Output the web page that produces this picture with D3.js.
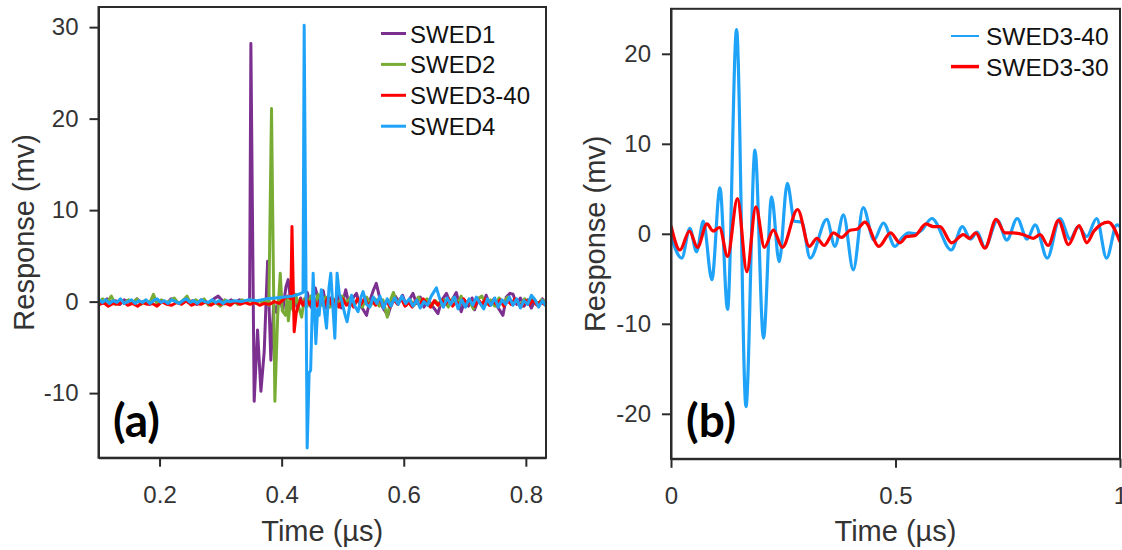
<!DOCTYPE html>
<html>
<head>
<meta charset="utf-8">
<script src="https://cdn.jsdelivr.net/npm/d3@7"></script>
<style>
  html, body { margin: 0; padding: 0; background: #fff; }
  svg { display: block; font-family: Arial, "Liberation Sans", sans-serif; }
</style>
</head>
<body>
<svg id="chart" width="1122" height="550"></svg>
<script>
// ---- panel (a) data: [time µs, response mV] ----
const swed1 = [
  [0.100,0.2],[0.107,-0.2],[0.114,0.3],[0.121,-0.1],[0.128,0.1],[0.135,-0.3],[0.142,0.2],[0.149,0.0],
  [0.156,-0.2],[0.163,0.3],[0.170,-0.1],[0.177,0.1],[0.184,-0.3],[0.191,0.2],[0.198,-0.1],[0.205,0.1],
  [0.212,-0.2],[0.219,0.3],[0.226,0.0],[0.233,-0.2],[0.240,0.2],[0.247,-0.1],[0.254,0.1],[0.261,-0.3],
  [0.268,0.2],[0.275,0.0],[0.282,-0.2],[0.289,0.3],[0.296,0.6],[0.303,0.1],[0.310,-0.2],[0.317,0.2],
  [0.324,-0.1],[0.331,0.2],[0.338,-0.1],[0.344,0.1],
  [0.3475,0.2],[0.3496,28.2],[0.3550,-10.9],[0.3605,-3.1],[0.3660,-9.8],[0.3714,-5.5],[0.3770,4.4],
  [0.3823,-6.4],[0.3870,-0.3],[0.3917,-1.2],[0.3960,0.6],[0.4020,-0.9],[0.4070,1.6],[0.4107,2.4],
  [0.4160,-0.7],[0.4210,0.6],[0.4260,-0.8],[0.4310,0.4],[0.4360,-0.5],
  [0.4420,1.0],[0.4480,-0.6],[0.4550,1.5],[0.4620,-0.3],[0.4680,1.2],[0.4740,-0.8],[0.4800,0.4],
  [0.4860,-1.0],[0.4920,0.9],[0.4980,-0.7],[0.5050,1.3],[0.5110,-0.5],[0.5170,0.4],[0.5226,0.9],
  [0.5280,-0.4],[0.5330,-0.8],[0.5390,-1.5],[0.5450,0.2],[0.5500,1.2],[0.5550,2.0],[0.5610,0.3],
  [0.5660,-0.7],[0.5740,-1.5],[0.5800,-0.2],[0.5860,0.6],[0.5920,0.0],[0.5980,0.7],[0.6040,-0.4],
  [0.6100,0.3],[0.6150,0.9],[0.6210,-0.2],[0.6270,0.5],[0.6330,-0.6],[0.6400,0.2],[0.6470,-0.5],
  [0.6560,-1.3],[0.6620,0.1],[0.6700,0.9],[0.6760,-0.2],[0.6860,1.0],[0.6940,-1.1],[0.7000,0.1],
  [0.7060,-0.5],[0.7120,0.4],[0.7160,-0.9],[0.7220,0.2],[0.7290,-0.5],[0.7350,0.7],[0.7410,-0.4],
  [0.7480,0.3],[0.7540,-0.6],[0.7625,-1.5],[0.7680,0.5],[0.7740,0.9],[0.7790,0.8],[0.7850,-0.3],
  [0.7910,0.4],[0.7970,-0.5],[0.8030,0.2],[0.8090,-0.7],[0.8150,0.1],[0.8210,-0.3],[0.8270,0.3],
  [0.8330,-0.2]
];

const swed2 = [
  [0.100,-0.2],[0.107,0.3],[0.114,-0.1],[0.121,0.6],[0.128,-0.3],[0.135,0.1],[0.142,-0.2],[0.149,0.2],
  [0.156,-0.1],[0.163,0.3],[0.170,-0.3],[0.177,0.1],[0.184,-0.1],[0.190,0.8],[0.196,-0.3],[0.203,0.2],
  [0.210,-0.2],[0.217,0.1],[0.224,0.4],[0.231,-0.2],[0.238,0.1],[0.245,0.6],[0.252,-0.3],[0.259,0.2],
  [0.266,-0.1],[0.273,0.3],[0.280,-0.4],[0.287,0.1],[0.294,-0.2],[0.300,-0.5],[0.307,0.2],[0.314,-0.2],
  [0.321,0.1],[0.328,-0.3],[0.335,0.2],[0.342,-0.1],[0.349,0.2],[0.356,-0.2],[0.363,0.1],[0.370,-0.1],
  [0.376,0.2],[0.3790,-0.4],
  [0.3834,21.1],[0.3889,-10.9],[0.3935,-1.5],[0.3977,3.1],[0.4010,-1.0],[0.4064,-1.5],[0.4090,0.4],
  [0.4110,-2.1],[0.4150,0.5],[0.4190,-1.0],[0.4230,0.8],[0.4280,-0.6],[0.4327,-1.7],[0.4370,0.3],
  [0.4420,-0.5],[0.4480,0.6],[0.4540,-0.3],[0.4600,0.8],[0.4660,-0.4],[0.4720,0.5],[0.4790,-0.6],
  [0.4850,0.3],[0.4920,-0.5],[0.4990,0.6],[0.5060,-0.2],[0.5120,0.4],[0.5190,-0.3],[0.5250,0.2],
  [0.5320,-0.6],[0.5390,0.5],[0.5460,-0.4],[0.5530,0.3],[0.5600,-0.5],[0.5660,0.2],[0.5730,-1.7],
  [0.5790,0.3],[0.5830,1.0],[0.5890,-0.2],[0.5960,0.4],[0.6030,-0.3],[0.6100,0.2],[0.6170,-0.4],
  [0.6240,0.5],[0.6310,-0.2],[0.6380,0.3],[0.6450,-0.5],[0.6520,0.1],[0.6590,-0.4],[0.6660,0.2],
  [0.6730,-0.6],[0.6800,0.3],[0.6870,-0.3],[0.6940,0.6],[0.7000,-0.4],[0.7070,0.2],[0.7140,-0.8],
  [0.7210,0.3],[0.7280,0.6],[0.7350,-0.3],[0.7420,0.2],[0.7490,-0.5],[0.7560,0.4],[0.7630,-0.2],
  [0.7700,0.5],[0.7770,-0.3],[0.7840,0.1],[0.7910,-0.4],[0.7980,0.3],[0.8050,-0.2],[0.8120,0.4],
  [0.8190,-0.3],[0.8260,0.2],[0.8330,-0.1]
];

const swed340 = [
  [0.100,-0.4],[0.108,-0.1],[0.116,-0.5],[0.124,-0.2],[0.132,-0.3],[0.140,0.0],[0.148,-0.4],[0.156,-0.2],
  [0.164,-0.5],[0.172,-0.1],[0.180,-0.3],[0.188,-0.2],[0.196,-0.5],[0.204,0.0],[0.212,-0.3],[0.220,-0.4],
  [0.228,-0.1],[0.236,-0.3],[0.244,0.1],[0.252,-0.4],[0.260,-0.2],[0.268,-0.3],[0.276,0.0],[0.284,-0.4],
  [0.292,-0.1],[0.300,-0.3],[0.308,-0.2],[0.316,-0.4],[0.324,0.0],[0.332,-0.3],[0.340,-0.1],[0.348,-0.3],
  [0.356,-0.1],[0.364,-0.4],[0.372,-0.2],[0.380,-0.3],[0.388,0.0],[0.396,-0.2],[0.404,0.3],[0.410,0.6],
  [0.4150,0.3],[0.4169,8.2],[0.4205,-3.3],[0.4240,-1.2],[0.4270,-0.5],[0.4310,0.2],[0.4350,-0.4],
  [0.4400,0.3],[0.4460,-0.3],[0.4520,0.4],[0.4580,-0.5],[0.4640,0.2],[0.4700,-0.4],[0.4760,0.5],
  [0.4820,-0.3],[0.4880,0.2],[0.4940,-0.6],[0.5000,0.3],[0.5060,-0.4],[0.5120,-0.1],[0.5180,-0.6],
  [0.5240,0.3],[0.5300,-0.3],[0.5360,0.4],[0.5420,-0.5],[0.5480,0.1],[0.5540,-0.4],[0.5600,0.3],
  [0.5660,-0.5],[0.5720,0.0],[0.5780,-0.6],[0.5840,0.2],[0.5900,-0.3],[0.5960,0.3],[0.6020,-0.5],
  [0.6080,-0.1],[0.6140,-0.6],[0.6200,0.2],[0.6260,-0.4],[0.6320,0.3],[0.6380,-0.2],[0.6440,-0.6],
  [0.6500,0.1],[0.6560,-0.4],[0.6620,0.2],[0.6680,-0.3],[0.6740,0.3],[0.6800,-0.5],[0.6860,0.0],
  [0.6920,-0.4],[0.6980,0.3],[0.7040,-0.3],[0.7100,0.1],[0.7160,-0.5],[0.7220,0.2],[0.7280,-0.3],
  [0.7340,0.3],[0.7400,-0.4],[0.7460,0.0],[0.7520,-0.3],[0.7580,0.2],[0.7640,-0.5],[0.7700,0.1],
  [0.7760,-0.3],[0.7820,0.3],[0.7880,-0.2],[0.7940,-0.5],[0.8000,0.1],[0.8060,-0.3],[0.8120,0.2],
  [0.8180,-0.4],[0.8240,0.0],[0.8300,-0.3],[0.8330,-0.1]
];

const swed4 = [
  [0.100,0.3],[0.106,-0.1],[0.112,0.2],[0.118,-0.2],[0.124,0.1],[0.130,-0.1],[0.136,0.3],[0.142,-0.2],
  [0.148,0.0],[0.154,0.2],[0.160,-0.2],[0.166,0.1],[0.172,-0.1],[0.178,0.2],[0.184,-0.2],[0.190,0.1],
  [0.196,0.3],[0.202,-0.1],[0.208,0.1],[0.214,-0.2],[0.220,0.2],[0.226,0.0],[0.232,-0.2],[0.238,0.1],
  [0.244,0.3],[0.250,-0.1],[0.256,0.1],[0.262,-0.2],[0.268,0.2],[0.274,0.0],[0.280,-0.1],[0.286,0.2],
  [0.292,-0.1],[0.298,0.1],[0.304,-0.2],[0.310,0.1],[0.316,0.0],[0.324,0.1],[0.334,0.0],[0.346,0.2],
  [0.360,0.1],[0.375,0.3],[0.390,0.4],[0.405,0.5],[0.418,0.6],[0.428,0.8],[0.4350,1.0],
  [0.4369,30.2],[0.4418,-16.0],[0.4450,-7.8],[0.4475,-7.5],[0.4516,3.1],[0.4560,-4.6],[0.4590,-0.8],
  [0.4614,-1.5],[0.4650,1.3],[0.4700,-1.0],[0.4735,-2.9],[0.4775,1.5],[0.4805,3.1],[0.4871,-4.0],
  [0.4908,3.1],[0.4945,0.8],[0.4980,0.2],[0.5040,-1.5],[0.5072,-2.2],[0.5144,0.7],[0.5200,-0.5],
  [0.5252,-1.1],[0.5300,0.5],[0.5334,1.1],[0.5390,-0.3],[0.5444,-0.6],[0.5500,0.5],[0.5560,-0.2],
  [0.5610,0.6],[0.5670,-0.7],[0.5730,0.3],[0.5790,-0.5],[0.5850,0.4],[0.5910,-0.3],[0.5970,0.6],
  [0.6030,-0.2],[0.6090,0.3],[0.6150,-0.5],[0.6210,0.2],[0.6270,-0.7],[0.6330,0.0],[0.6390,-0.4],
  [0.6450,0.6],[0.6535,1.5],[0.6590,0.3],[0.6650,-0.6],[0.6710,0.4],[0.6770,-0.3],[0.6830,0.5],
  [0.6890,-0.8],[0.6950,0.2],[0.7010,-0.6],[0.7070,0.3],[0.7130,-0.4],[0.7190,0.5],[0.7250,-0.2],
  [0.7310,-0.8],[0.7370,0.3],[0.7430,-0.4],[0.7490,0.4],[0.7550,-0.6],[0.7610,0.2],[0.7670,-0.3],
  [0.7730,0.5],[0.7790,-0.4],[0.7850,0.3],[0.7910,-0.7],[0.7970,0.1],[0.8030,-0.3],[0.8090,0.7],
  [0.8150,0.2],[0.8210,-0.6],[0.8270,0.1],[0.8330,-0.5]
];

// ---- panel (b) data ----
const swed3_40b = [
  [0.000,-0.3],[0.024,-2.7],[0.042,0.6],[0.057,-2.0],[0.072,1.4],[0.091,-5.1],[0.109,5.1],[0.126,-8.4],
  [0.146,22.7],[0.167,-19.2],[0.187,9.3],[0.206,-11.6],[0.224,4.1],[0.241,-3.1],[0.259,5.6],[0.275,1.4],
  [0.291,1.3],[0.310,-2.7],[0.347,1.6],[0.365,-1.4],[0.384,2.1],[0.406,-4.0],[0.428,2.9],[0.452,-0.7],
  [0.473,1.2],[0.499,-1.4],[0.515,-0.4],[0.530,0.1],[0.545,0.0],[0.558,0.4],[0.581,1.7],[0.624,-1.8],
  [0.649,0.8],[0.667,-0.6],[0.682,0.2],[0.699,-1.5],[0.727,1.5],[0.748,-0.7],[0.771,1.7],[0.793,-0.6],
  [0.811,1.0],[0.838,-2.7],[0.866,1.7],[0.889,-0.6],[0.907,0.8],[0.926,-0.3],[0.948,1.7],[0.970,-2.7],
  [0.993,1.0],[1.000,0.8]
];

const swed3_30b = [
  [0.000,0.9],[0.020,-1.8],[0.041,0.3],[0.059,-1.5],[0.080,1.1],[0.094,0.3],[0.108,0.7],[0.126,-2.5],
  [0.148,3.9],[0.169,-4.2],[0.189,3.0],[0.208,-1.5],[0.228,0.4],[0.248,-1.5],[0.282,2.7],[0.308,-1.4],
  [0.325,-0.5],[0.341,-1.3],[0.362,0.1],[0.380,-0.4],[0.399,0.4],[0.414,0.5],[0.432,1.3],[0.463,-1.4],
  [0.489,0.1],[0.510,-1.0],[0.525,-0.3],[0.543,-0.2],[0.568,1.1],[0.584,0.8],[0.599,0.8],[0.625,-1.0],
  [0.651,-0.1],[0.665,-0.5],[0.679,0.1],[0.699,-1.6],[0.724,1.6],[0.744,0.1],[0.762,0.1],[0.785,-0.1],
  [0.807,-0.5],[0.822,-0.1],[0.840,-1.3],[0.863,1.5],[0.885,-1.2],[0.909,0.9],[0.926,-1.0],[0.942,0.3],
  [0.974,1.3],[1.000,-0.9]
];

// ticks / legends
const ticksAX = [0.2, 0.4, 0.6, 0.8];
const ticksAY = [-10, 0, 10, 20, 30];
const ticksBX = [0, 0.5, 1];
const ticksBY = [-20, -10, 0, 10, 20];
const legendA = ["SWED1", "SWED2", "SWED3-40", "SWED4"];
const legendB = ["SWED3-40", "SWED3-30"];

const C_PURPLE = "#7b2f8f", C_GREEN = "#78ac34", C_RED = "#ff0000", C_BLUE = "#1ea3f8";
const INK = "#2b2b2b";

const svg = d3.select("#chart");

function panel(cfg) {
  const x = d3.scaleLinear(cfg.xDomain, [cfg.left, cfg.right]);
  const y = d3.scaleLinear(cfg.yDomain, [cfg.bottom, cfg.top]);
  const g = svg.append("g");

  const clipId = "clip-" + cfg.id;
  svg.append("defs").append("clipPath").attr("id", clipId)
    .append("rect").attr("x", cfg.left).attr("y", cfg.top)
    .attr("width", cfg.right - cfg.left).attr("height", cfg.bottom - cfg.top);

  // series
  const plot = g.append("g").attr("clip-path", `url(#${clipId})`);
  cfg.series.forEach(s => {
    plot.append("path").datum(s.data)
      .attr("d", d3.line().x(d => x(d[0])).y(d => y(d[1])).curve(cfg.curve))
      .attr("fill", "none").attr("stroke", s.color).attr("stroke-width", s.width)
      .attr("stroke-linejoin", "round");
  });

  // frame
  g.append("rect").attr("x", cfg.left).attr("y", cfg.top)
    .attr("width", cfg.right - cfg.left).attr("height", cfg.bottom - cfg.top)
    .attr("fill", "none").attr("stroke", INK).attr("stroke-width", 2);

  // axes
  const xa = g.append("g").attr("transform", `translate(0,${cfg.bottom})`)
    .call(d3.axisBottom(x).tickValues(cfg.xTicks).tickFormat(cfg.xFmt)
      .tickSize(9).tickSizeOuter(0).tickPadding(19));
  const ya = g.append("g").attr("transform", `translate(${cfg.left},0)`)
    .call(d3.axisLeft(y).tickValues(cfg.yTicks).tickFormat(d3.format("d"))
      .tickSize(9).tickSizeOuter(0).tickPadding(11));
  [xa, ya].forEach(a => {
    a.select(".domain").attr("stroke", INK).attr("stroke-width", 2);
    a.selectAll(".tick line").attr("stroke", INK).attr("stroke-width", 2);
    a.selectAll(".tick text").attr("font-size", 24).attr("fill", "#333")
      .attr("font-family", "Arial, 'Liberation Sans', sans-serif");
  });
  ya.selectAll(".tick text").text(d => d < 0 ? "-" + Math.abs(d) : d);

  // axis titles
  g.append("text").attr("x", (cfg.left + cfg.right) / 2).attr("y", 541)
    .attr("text-anchor", "middle").attr("font-size", 29).attr("fill", "#333")
    .text("Time (µs)");
  g.append("text").attr("transform", `translate(${cfg.yTitleX},${(cfg.top + cfg.bottom) / 2}) rotate(-90)`)
    .attr("text-anchor", "middle").attr("font-size", 29).attr("fill", "#333")
    .text("Response (mv)");

  // panel tag
  g.append("text").attr("x", cfg.tagX).attr("y", 437)
    .attr("font-family", "Lato, 'Open Sans', sans-serif").attr("font-weight", 700)
    .attr("font-size", 46).attr("fill", "#000").text(cfg.tag);

  // legend
  const lg = g.append("g");
  cfg.legend.forEach((name, i) => {
    const yy = cfg.legY + i * cfg.legStep;
    lg.append("line").attr("x1", cfg.legX1).attr("x2", cfg.legX2).attr("y1", yy).attr("y2", yy)
      .attr("stroke", cfg.series[cfg.legOrder[i]].color).attr("stroke-width", cfg.legWidths[i]);
    lg.append("text").attr("x", cfg.legX2 + cfg.legGap).attr("y", yy + 9)
      .attr("font-size", cfg.legFont).attr("fill", "#111").text(name);
  });
}

// (a)
panel({
  id: "a", left: 98.5, right: 546, top: 7, bottom: 457.7,
  xDomain: [0.1, 0.833], yDomain: [-17.06, 32.2],
  xTicks: ticksAX, yTicks: ticksAY, xFmt: d3.format(".1f"),
  curve: d3.curveLinear,
  series: [
    { data: swed1, color: C_PURPLE, width: 3 },
    { data: swed2, color: C_GREEN, width: 3 },
    { data: swed340, color: C_RED, width: 3 },
    { data: swed4, color: C_BLUE, width: 3 }
  ],
  yTitleX: 34, tag: "(a)", tagX: 113,
  legend: legendA, legOrder: [0, 1, 2, 3], legWidths: [3, 3, 3, 3],
  legX1: 381, legX2: 406, legGap: 4, legFont: 24, legY: 33.5, legStep: 30.9
});

// (b)
panel({
  id: "b", left: 671, right: 1120, top: 8.8, bottom: 458.8,
  xDomain: [0, 1], yDomain: [-25, 25],
  xTicks: ticksBX, yTicks: ticksBY, xFmt: d => String(d),
  curve: d3.curveMonotoneX,
  series: [
    { data: swed3_40b, color: C_BLUE, width: 3.2 },
    { data: swed3_30b, color: C_RED, width: 3.2 }
  ],
  yTitleX: 605, tag: "(b)", tagX: 686,
  legend: legendB, legOrder: [0, 1], legWidths: [2, 3.5],
  legX1: 951, legX2: 979, legGap: 7, legFont: 24.5, legY: 36, legStep: 30.6
});
</script>
</body>
</html>
